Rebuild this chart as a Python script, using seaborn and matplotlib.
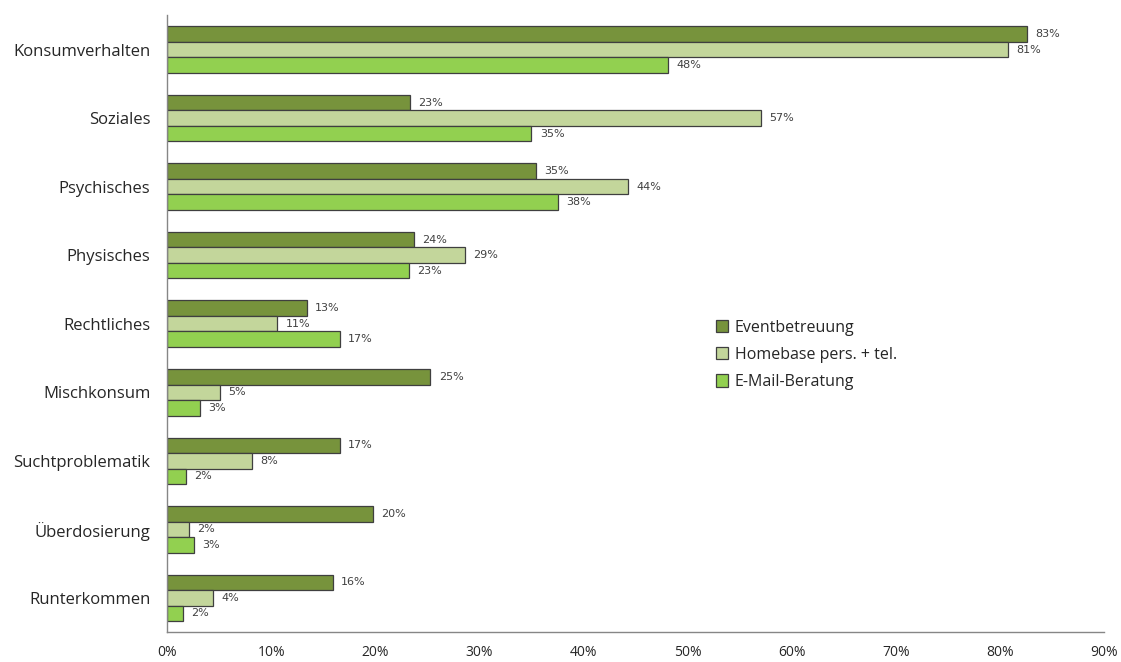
import matplotlib
matplotlib.use("Agg")
import matplotlib.pyplot as plt
import seaborn as sns
import pandas as pd
import numpy as np
from matplotlib.ticker import FixedLocator, PercentFormatter

categories = ["Konsumverhalten", "Soziales", "Psychisches", "Physisches", "Rechtliches",
              "Mischkonsum", "Suchtproblematik", "Überdosierung", "Runterkommen"]
series = ["Eventbetreuung", "Homebase pers. + tel.", "E-Mail-Beratung"]
event = [82.6, 23.3, 35.4, 23.7, 13.4, 25.3, 16.6, 19.8, 15.9]
homebase = [80.8, 57.0, 44.3, 28.6, 10.6, 5.1, 8.2, 2.1, 4.4]
email = [48.1, 35.0, 37.5, 23.2, 16.6, 3.2, 1.8, 2.6, 1.5]
colors = ["#77933C", "#C3D69B", "#92D050"]
xticks = list(range(0, 91, 10))

rows = []
for s, vals in zip(series, [event, homebase, email]):
    for c, v in zip(categories, vals):
        rows.append({"Kategorie": c, "Serie": s, "Wert": v})
df = pd.DataFrame(rows)

sns.set_style("white")
plt.rcParams["font.family"] = ["Open Sans", "DejaVu Sans"]

fig = plt.figure(figsize=(11.21, 6.62), dpi=100)
ax = fig.add_axes([0.149, 0.045, 0.836, 0.932])

sns.barplot(data=df, y="Kategorie", x="Wert", hue="Serie", order=categories,
            hue_order=series, palette=colors, saturation=1, orient="h", width=0.68,
            edgecolor="#3F3F3F", linewidth=0.9, ax=ax)

for cont in ax.containers:
    labels = [f"{int(b.get_width() + 0.5)}%" for b in cont]
    ax.bar_label(cont, labels=labels, padding=6, fontsize=8, color="#404040",
                 family=["DejaVu Sans"])

ax.set_xlim(0, 90)
ax.set_ylim(len(categories) - 0.5, -0.5)
ax.set_xticks(xticks)
ax.xaxis.set_major_formatter(PercentFormatter(decimals=0))
ax.tick_params(axis="x", length=4, color="#868686", labelsize=10, pad=5, direction="out")
ax.tick_params(axis="y", which="major", length=0, labelsize=12, pad=12)
ax.yaxis.set_minor_locator(FixedLocator(np.arange(-0.5, len(categories), 1.0)))
ax.tick_params(axis="y", which="minor", length=5, color="#868686", direction="out")
ax.set_xlabel("")
ax.set_ylabel("")
for side in ["top", "right"]:
    ax.spines[side].set_visible(False)
for side in ["left", "bottom"]:
    ax.spines[side].set_color("#868686")
    ax.spines[side].set_linewidth(1)

leg = ax.legend(loc="upper left", bbox_to_anchor=(0.57, 0.53), frameon=False,
                fontsize=11.5, handlelength=0.8, handleheight=0.8, handletextpad=0.4,
                labelspacing=0.7)

fig.savefig("out.png", dpi=100)
